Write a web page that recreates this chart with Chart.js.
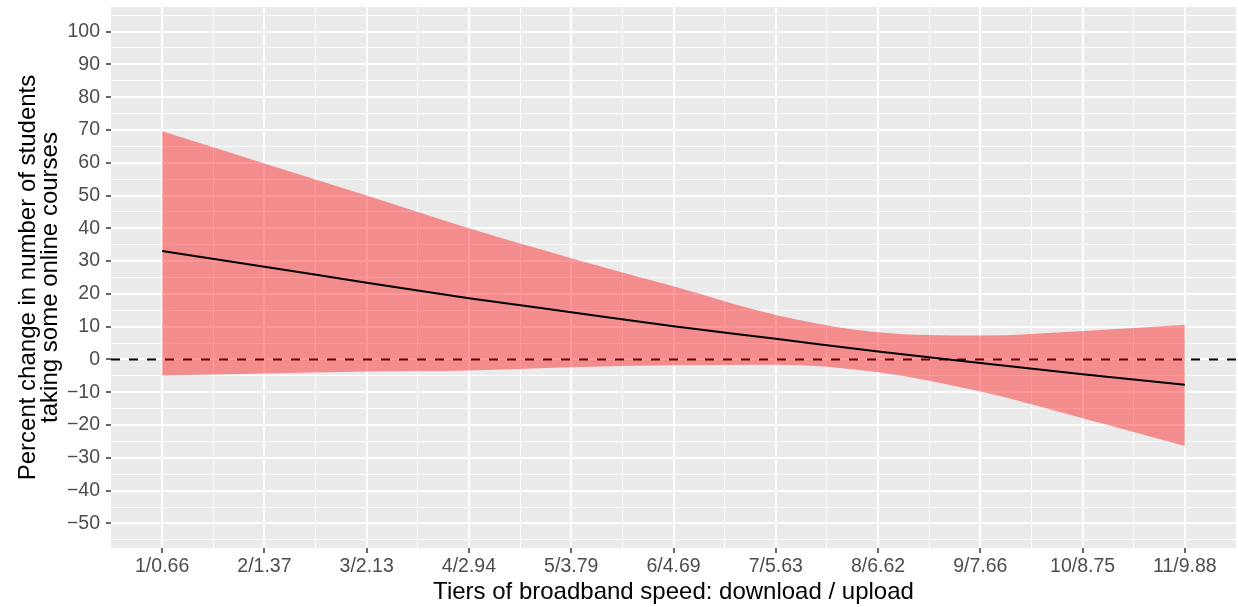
<!DOCTYPE html>
<html>
<head>
<meta charset="utf-8">
<script src="https://cdn.jsdelivr.net/npm/chart.js@4"></script>
<style>
    html, body { margin: 0; padding: 0; background: #ffffff; }
    #wrap { width: 1238px; height: 607px; }
</style>
</head>
<body>
<div id="wrap"><canvas id="line-chart"></canvas></div>
<script>
// tiers (download / upload)
const tierLabels = ["1/0.66", "2/1.37", "3/2.13", "4/2.94", "5/3.79", "6/4.69",
                    "7/5.63", "8/6.62", "9/7.66", "10/8.75", "11/9.88"];
// estimated percent change (fit) and its band
const fitValues   = [33.1, 28.3, 23.4, 18.7, 14.4, 10.1, 6.3, 2.4, -1.1, -4.5, -7.7];
const upperValues = [69.6, 59.8, 50.0, 40.0, 30.9, 22.3, 13.6, 8.3, 7.3, 8.7, 10.6];
const lowerValues = [-4.9, -4.3, -3.7, -3.4, -2.4, -1.8, -1.6, -3.9, -9.8, -17.9, -26.4];
const refValue = 0;

const yMajor = [-50, -40, -30, -20, -10, 0, 10, 20, 30, 40, 50, 60, 70, 80, 90, 100];
const yMinor = [-55, -45, -35, -25, -15, -5, 5, 15, 25, 35, 45, 55, 65, 75, 85, 95, 105];

const tickColor = "#4d4d4d";
const fontName = "'Liberation Sans', Arial, sans-serif";

function toPoints(values) {
    return values.map((v, i) => ({ x: i + 1, y: v }));
}

function fmtNum(v) {
    return v < 0 ? "\u2212" + Math.abs(v) : String(v);
}

// grey panel
const panelBg = {
    id: "panelBg",
    beforeDraw(chart) {
        const { ctx, chartArea: a } = chart;
        ctx.save();
        ctx.fillStyle = "#ebebeb";
        ctx.fillRect(a.left, a.top, a.right - a.left, a.bottom - a.top);
        ctx.restore();
    }
};

// dashed zero line, under the ribbon
const zeroLine = {
    id: "zeroLine",
    beforeDatasetsDraw(chart) {
        const { ctx, chartArea: a, scales } = chart;
        const y = scales.y.getPixelForValue(refValue);
        ctx.save();
        ctx.strokeStyle = "#000000";
        ctx.lineWidth = 2;
        ctx.setLineDash([9, 9]);
        ctx.beginPath();
        ctx.moveTo(a.left, y);
        ctx.lineTo(a.right, y);
        ctx.stroke();
        ctx.restore();
    }
};

const xMajor = tierLabels.map((t, i) => i + 1);
const xMinor = tierLabels.slice(1).map((t, i) => i + 1.5);

new Chart(document.getElementById("line-chart"), {
    type: "line",
    data: {
        datasets: [
            {
                label: "fit",
                data: toPoints(fitValues),
                borderColor: "#000000",
                borderWidth: 2,
                pointRadius: 0,
                cubicInterpolationMode: "monotone",
                fill: false
            },
            {
                label: "upper",
                data: toPoints(upperValues),
                borderWidth: 0,
                borderColor: "rgba(0,0,0,0)",
                pointRadius: 0,
                cubicInterpolationMode: "monotone",
                backgroundColor: "rgba(255,0,0,0.4)",
                fill: "+1"
            },
            {
                label: "lower",
                data: toPoints(lowerValues),
                borderWidth: 0,
                borderColor: "rgba(0,0,0,0)",
                pointRadius: 0,
                cubicInterpolationMode: "monotone",
                fill: false
            }
        ]
    },
    options: {
        responsive: true,
        maintainAspectRatio: false,
        animation: false,
        layout: { padding: { top: 7, right: 2, left: 0, bottom: 0 } },
        plugins: {
            legend: { display: false },
            tooltip: { enabled: false },
            filler: { drawTime: "beforeDatasetDraw" }
        },
        scales: {
            x: {
                type: "linear",
                min: 0.5,
                max: 11.5,
                afterBuildTicks: (axis) => {
                    axis.ticks = xMajor.concat(xMinor).sort((a, b) => a - b).map(v => ({ value: v }));
                },
                afterFit: (axis) => {
                    axis.height = 59;
                    axis.paddingLeft = 0;
                    axis.paddingRight = 0;
                },
                border: { display: false },
                grid: {
                    color: "#ffffff",
                    lineWidth: (c) => Number.isInteger(c.tick.value) ? 2 : 1,
                    drawTicks: true,
                    tickLength: 5,
                    tickWidth: 1.5,
                    tickColor: (c) => Number.isInteger(c.tick.value) ? "#333333" : "rgba(0,0,0,0)"
                },
                ticks: {
                    autoSkip: false,
                    maxRotation: 0,
                    padding: 2,
                    color: tickColor,
                    font: { family: fontName, size: 19.5 },
                    callback: (v) => Number.isInteger(v) ? tierLabels[v - 1] : ""
                },
                title: {
                    display: true,
                    text: "Tiers of broadband speed: download / upload",
                    color: "#000000",
                    font: { family: fontName, size: 24 },
                    padding: { top: 0, bottom: 0 }
                }
            },
            y: {
                min: -57.5,
                max: 107.5,
                afterBuildTicks: (axis) => {
                    axis.ticks = yMajor.concat(yMinor).sort((a, b) => a - b).map(v => ({ value: v }));
                },
                afterFit: (axis) => {
                    axis.width = 111;
                    axis.paddingTop = 0;
                    axis.paddingBottom = 0;
                },
                border: { display: false },
                grid: {
                    color: "#ffffff",
                    lineWidth: (c) => c.tick.value % 10 === 0 ? 2 : 1,
                    drawTicks: true,
                    tickLength: 5,
                    tickWidth: 1.5,
                    tickColor: (c) => c.tick.value % 10 === 0 ? "#333333" : "rgba(0,0,0,0)"
                },
                ticks: {
                    autoSkip: false,
                    padding: 6,
                    color: tickColor,
                    font: { family: fontName, size: 19.5 },
                    callback: (v) => v % 10 === 0 ? fmtNum(v) : ""
                },
                title: {
                    display: true,
                    text: ["Percent change in number of students", "taking some online courses"],
                    color: "#000000",
                    font: { family: fontName, size: 24, lineHeight: 0.95 },
                    padding: { top: 16.5, bottom: 0 }
                }
            }
        }
    },
    plugins: [panelBg, zeroLine]
});
</script>
</body>
</html>
